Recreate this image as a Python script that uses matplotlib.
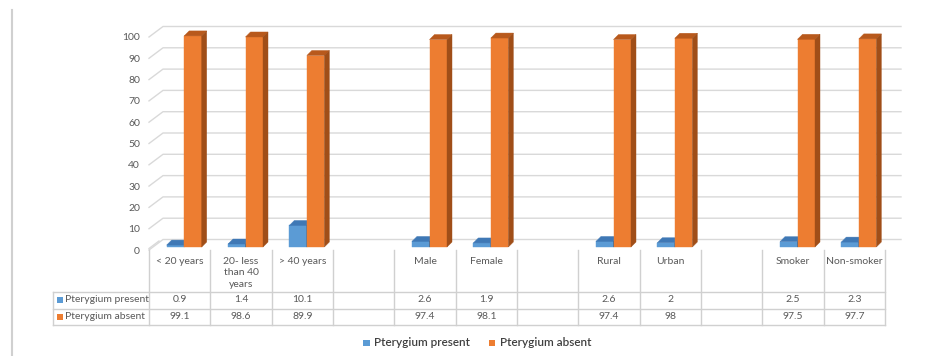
import matplotlib
matplotlib.use("Agg")
import matplotlib.pyplot as plt
from matplotlib.patches import Rectangle, Polygon
from matplotlib.lines import Line2D
from matplotlib.transforms import blended_transform_factory

plt.rcParams['font.family'] = ['Lato', 'DejaVu Sans']

categories = ["< 20 years", "20- less\nthan 40\nyears", "> 40 years", "",
              "Male", "Female", "", "Rural", "Urban", "", "Smoker", "Non-smoker"]
present = [0.9, 1.4, 10.1, None, 2.6, 1.9, None, 2.6, 2, None, 2.5, 2.3]
absent = [99.1, 98.6, 89.9, None, 97.4, 98.1, None, 97.4, 98, None, 97.5, 97.7]
series_names = ["Pterygium present", "Pterygium absent"]
y_ticks = list(range(0, 101, 10))

W, H = 933, 356
BLUE, BLUE_TOP, BLUE_SIDE = "#5B9BD5", "#3F78B5", "#2F5F8F"
ORANGE, ORANGE_TOP, ORANGE_SIDE = "#ED7D31", "#B8591C", "#A04E18"
GRID = "#D9D9D9"
TXT = "#595959"

fig = plt.figure(figsize=(W / 100, H / 100), dpi=100)
fig.patch.set_facecolor("white")

# plot area: column -0.5 at x=149px, 11.5 at x=885px; value 0 at y=247px, 100 at y=34px
ax = fig.add_axes([149 / W, (H - 247) / H, 736 / W, 213 / H])
ax.set_xlim(-0.5, len(categories) - 0.5)
ax.set_ylim(0, 100)
ax.axis("off")

PX_X = 1 / 61.33   # one pixel in x data units
PX_Y = 100 / 213   # one pixel in y data units


def px(dx, dy):
    return dx * PX_X, dy * PX_Y


# back-wall gridlines with slanted left end
n = len(categories)
for v in y_ticks:
    x0, y0 = -0.5, v + px(0, -3)[1]
    x1, y1 = -0.5 + px(14, 0)[0], v + px(0, 7.5)[1]
    x2 = n - 0.5 + px(16, 0)[0]
    ax.plot([x0, x1, x2], [y0, y1, y1], color=GRID, lw=1, clip_on=False, zorder=1)
    ax.text(-0.5 - px(9, 0)[0], v + px(0, -4)[1], str(v), ha="right", va="center",
            fontsize=7.5, color=TXT, clip_on=False)

BW = 17.5 * PX_X
DX, DY = px(5, 5)


def bar3d(x0, h, front, top, side):
    ax.add_patch(Rectangle((x0, 0), BW, h, facecolor=front, edgecolor=front,
                           lw=0.3, clip_on=False, zorder=3))
    ax.add_patch(Polygon([(x0, h), (x0 + BW, h), (x0 + BW + DX, h + DY), (x0 + DX, h + DY)],
                         closed=True, facecolor=top, edgecolor=top, lw=0.3,
                         clip_on=False, zorder=3))
    ax.add_patch(Polygon([(x0 + BW, 0), (x0 + BW + DX, DY), (x0 + BW + DX, h + DY), (x0 + BW, h)],
                         closed=True, facecolor=side, edgecolor=side, lw=0.3,
                         clip_on=False, zorder=3))


for i in range(n):
    if present[i] is not None:
        bar3d(i - 13 * PX_X, present[i], BLUE, BLUE_TOP, BLUE_SIDE)
    if absent[i] is not None:
        bar3d(i + 4.5 * PX_X, absent[i], ORANGE, ORANGE_TOP, ORANGE_SIDE)

# floor left edge
ax.plot([-0.5, -0.5 + px(10, 0)[0]], [px(0, -1.5)[1], px(0, 6)[1]],
        color=GRID, lw=1, clip_on=False, zorder=1)

# data table below the plot (x in data units, y in figure fraction)
tr = blended_transform_factory(ax.transData, fig.transFigure)


def fy(py):
    return 1 - py / H


LINE = "#D0D0D0"
left_x = -0.5 - 96 * PX_X
right_x = n - 0.5
for py in (292, 308.5, 325):
    fig.add_artist(Line2D([left_x, right_x], [fy(py), fy(py)], transform=tr, color=LINE, lw=1))
fig.add_artist(Line2D([left_x, left_x], [fy(292), fy(325)], transform=tr, color=LINE, lw=1))
for i in range(n + 1):
    xb = i - 0.5
    fig.add_artist(Line2D([xb, xb], [fy(250), fy(325)], transform=tr, color=LINE, lw=1))

for i, c in enumerate(categories):
    if c:
        fig.text(i, fy(256.5), c, transform=tr, ha="center", va="top", fontsize=7.5,
                 color=TXT, linespacing=1.4)
    for vals, py in ((present, 300), (absent, 316.5)):
        if vals[i] is not None:
            fig.text(i, fy(py), f"{vals[i]:g}", transform=tr, ha="center", va="center",
                     fontsize=7.5, color=TXT)

for name, col, py in ((series_names[0], BLUE, 300), (series_names[1], ORANGE, 316.5)):
    fig.add_artist(Rectangle((left_x + 4 * PX_X, fy(py + 3)), 6 * PX_X, 6 / H,
                             transform=tr, facecolor=col, edgecolor="none"))
    fig.text(left_x + 12 * PX_X, fy(py), name, transform=tr, ha="left", va="center",
             fontsize=7.5, color=TXT)

# legend
for name, col, lx in ((series_names[0], BLUE, 363), (series_names[1], ORANGE, 489)):
    fig.add_artist(Rectangle((lx / W, fy(346)), 6.5 / W, 6.5 / H, transform=fig.transFigure,
                             facecolor=col, edgecolor="none"))
    fig.text((lx + 11) / W, fy(343), name, ha="left", va="center", fontsize=8.5,
             color="#404040", fontweight="semibold")

# left frame edge
fig.add_artist(Line2D([12 / W, 12 / W], [fy(10), 0], transform=fig.transFigure,
                      color="#D0D0D0", lw=1.5))

fig.savefig("out.png", dpi=100, facecolor="white")
